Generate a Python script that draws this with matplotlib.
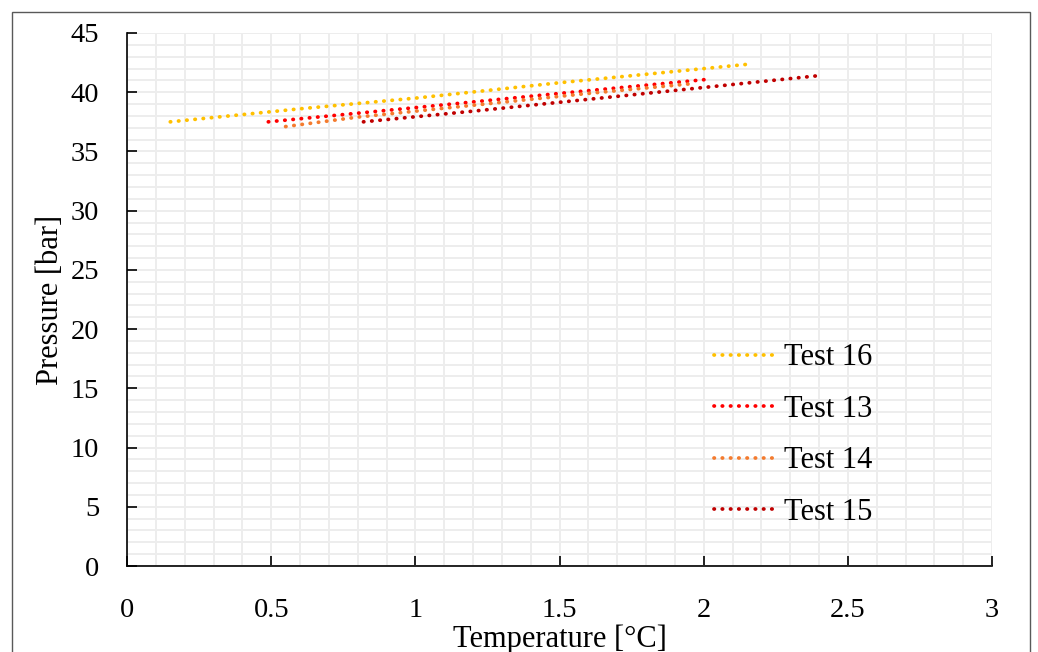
import matplotlib
matplotlib.use('Agg')
import matplotlib.pyplot as plt
from matplotlib.patches import Rectangle
from matplotlib.ticker import MultipleLocator

# Temperature [°C] and pressure [bar]
t16 = [0.15, 0.6, 1.0, 1.5, 2.17]
p16 = [37.5, 38.6, 39.5, 40.8, 42.4]
t13 = [0.49, 1.0, 1.5, 2.02]
p13 = [37.5, 38.7, 39.9, 41.1]
t14 = [0.55, 0.8, 1.2, 1.6, 1.95]
p14 = [37.1, 37.9, 38.9, 39.9, 40.7]
t15 = [0.82, 1.2, 1.8, 2.4]
p15 = [37.5, 38.4, 39.9, 41.4]

series = [
    ('Test 16', t16, p16, '#FFC000'),
    ('Test 13', t13, p13, '#FF0000'),
    ('Test 14', t14, p14, '#F47B2E'),
    ('Test 15', t15, p15, '#C00000'),
]

plt.rcParams['font.family'] = ['Liberation Serif']

fig = plt.figure(figsize=(10.38, 6.52), dpi=100)
ax = fig.add_axes([0.1224, 0.1319, 0.8333, 0.8175])

for name, t, p, c in series:
    ax.plot(t, p, color=c, linewidth=2.7, linestyle=(0, (0.1, 2.1)),
            dash_capstyle='round', label=name)

ax.set_xlim(0, 3)
ax.set_ylim(0, 45)
ax.xaxis.set_major_locator(MultipleLocator(0.5))
ax.xaxis.set_minor_locator(MultipleLocator(0.1))
ax.yaxis.set_major_locator(MultipleLocator(5))
ax.yaxis.set_minor_locator(MultipleLocator(1))
ax.set_xticks([0, 0.5, 1, 1.5, 2, 2.5, 3], ['0', '0.5', '1', '1.5', '2', '2.5', '3'])
ax.grid(which='both', color='#EDEDED', linewidth=1.4)
ax.set_axisbelow(True)

for s in ['top', 'right']:
    ax.spines[s].set_visible(False)
for s in ['left', 'bottom']:
    ax.spines[s].set_linewidth(1.2)
ax.tick_params(which='major', direction='in', length=7, width=1.2, labelsize=20.5)
ax.tick_params(which='minor', length=0)
ax.tick_params(axis='x', pad=23)
ax.tick_params(axis='y', pad=20)

ax.set_xlabel('Temperature [°C]', fontsize=22, labelpad=1)
ax.set_ylabel('Pressure [bar]', fontsize=22, labelpad=4)

leg = ax.legend(loc='lower right', bbox_to_anchor=(0.862, 0.073), frameon=False,
                fontsize=22, labelspacing=0.74, handlelength=2.0, handletextpad=0.3,
                borderpad=0, borderaxespad=0)

fig.patches.append(Rectangle((12 / 1038, -0.01), 1018 / 1038, 1 - 12 / 652 + 0.01,
                             transform=fig.transFigure, fill=False,
                             edgecolor='#595959', linewidth=1))

fig.savefig('out.png', dpi=100)
